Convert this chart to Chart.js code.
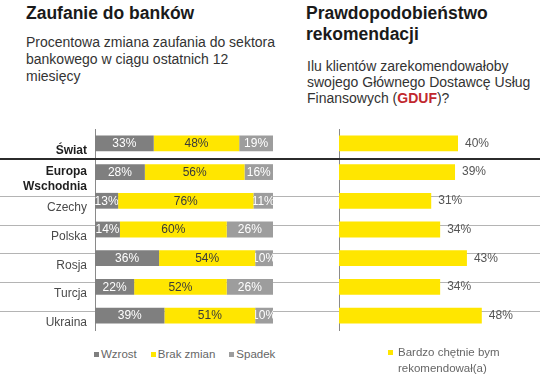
<!DOCTYPE html>
<html>
<head>
<meta charset="utf-8">
<script src="https://cdn.jsdelivr.net/npm/chart.js@4/dist/chart.umd.min.js"></script>
<style>
  html, body { margin: 0; padding: 0; background: #fff; }
  body { position: relative; width: 540px; height: 378px; overflow: hidden; font-family: "Liberation Sans", Arial, sans-serif; }
  .title { position: absolute; font-weight: bold; font-size: 17.5px; line-height: 21px; color: #1a1a1a; white-space: nowrap; }
  .sub { position: absolute; font-size: 14px; color: #333; white-space: nowrap; }
  canvas { position: absolute; }
  .legend { position: absolute; font-size: 11.5px; line-height: 14px; color: #666; }
  .legend .item { display: inline-flex; align-items: center; margin-right: 14px; }
  .legend .box { display: inline-block; width: 5px; height: 5px; margin-right: 2px; }
  .gduf { color: #c1272d; font-weight: bold; }
</style>
</head>
<body>
<div class="title" style="left:26px; top:3px;">Zaufanie do banków</div>
<div class="sub" style="left:26px; top:34px; line-height:17px;">Procentowa zmiana zaufania do sektora<br>bankowego w ciągu ostatnich 12<br>miesięcy</div>
<div class="title" style="left:306px; top:3px;">Prawdopodobieństwo<br>rekomendacji</div>
<div class="sub" style="left:307px; top:58px; line-height:16px;">Ilu klientów zarekomendowałoby<br>swojego Głównego Dostawcę Usług<br>Finansowych (<span class="gduf">GDUF</span>)?</div>

<canvas id="trust" width="280" height="233" style="left:0; top:113px;"></canvas>
<canvas id="recommend" width="260" height="233" style="left:280px; top:113px;"></canvas>

<div id="legendLeft" class="legend" style="left:94px; top:345.7px; white-space:nowrap;"></div>
<div id="legendRight" class="legend" style="left:388px; top:344px; width:130px;"></div>

<script>
// ---- data ----
const categories = ['Świat', ['Europa', 'Wschodnia'], 'Czechy', 'Polska', 'Rosja', 'Turcja', 'Ukraina'];
const trustSeriesNames = ['Wzrost', 'Brak zmian', 'Spadek'];
const wzrost = [33, 28, 13, 14, 36, 22, 39];
const brakZmian = [48, 56, 76, 60, 54, 52, 51];
const spadek = [19, 16, 11, 26, 10, 26, 10];
const recommendSeriesName = 'Bardzo chętnie bym rekomendował(a)';
const rekomendacja = [40, 39, 31, 34, 43, 34, 48];

// ---- styles ----
const GRAY_DARK = '#7f7f7f';
const YELLOW = '#ffe600';
const GRAY_LIGHT = '#9d9d9d';
const FONT = '"Liberation Sans", Arial, sans-serif';
Chart.defaults.font.family = FONT;

// row separators (thick line under the first row, thin lines between the rest)
const rowLines = {
  id: 'rowLines',
  beforeDatasetsDraw(chart) {
    const y = chart.scales.y, ctx = chart.ctx, w = chart.width;
    const n = chart.data.labels.length;
    const p0 = y.getPixelForValue(0), p1 = y.getPixelForValue(1);
    const step = p1 - p0;
    ctx.save();
    ctx.fillStyle = '#2b2b2b';
    ctx.fillRect(0, Math.round((p0 + p1) / 2), w, 2);
    ctx.fillStyle = '#b4b4b4';
    for (let i = 2; i < n; i++) {
      ctx.fillRect(0, Math.round(y.getPixelForValue(i) - step * 0.17), w, 1);
    }
    ctx.restore();
  }
};

// percentage labels inside stacked segments
const segmentLabels = {
  id: 'segmentLabels',
  afterDatasetsDraw(chart) {
    const ctx = chart.ctx;
    chart.data.datasets.forEach((ds, di) => {
      const meta = chart.getDatasetMeta(di);
      meta.data.forEach((bar, i) => {
        const {x, y, base, height} = bar.getProps(['x', 'y', 'base', 'height'], true);
        const left = Math.min(x, base), wd = Math.abs(x - base);
        ctx.save();
        ctx.beginPath();
        ctx.rect(left, y - height / 2, wd, height);
        ctx.clip();
        ctx.font = '12px ' + FONT;
        ctx.fillStyle = di === 1 ? '#3a3a3a' : '#ffffff';
        ctx.textAlign = 'center';
        ctx.textBaseline = 'middle';
        ctx.fillText(ds.data[i] + '%', left + wd / 2, y + 0.5);
        ctx.restore();
      });
    });
  }
};

// value labels after bars
const valueLabels = {
  id: 'valueLabels',
  afterDatasetsDraw(chart) {
    const ctx = chart.ctx;
    chart.data.datasets.forEach((ds, di) => {
      chart.getDatasetMeta(di).data.forEach((bar, i) => {
        const {x, y} = bar.getProps(['x', 'y'], true);
        ctx.save();
        ctx.font = '12px ' + FONT;
        ctx.fillStyle = '#555';
        ctx.textAlign = 'left';
        ctx.textBaseline = 'middle';
        ctx.fillText(ds.data[i] + '%', x + 7, y);
        ctx.restore();
      });
    });
  }
};

const trustChart = new Chart(document.getElementById('trust'), {
  type: 'bar',
  data: {
    labels: categories,
    datasets: [
      {label: trustSeriesNames[0], data: wzrost, backgroundColor: GRAY_DARK},
      {label: trustSeriesNames[1], data: brakZmian, backgroundColor: YELLOW},
      {label: trustSeriesNames[2], data: spadek, backgroundColor: GRAY_LIGHT}
    ]
  },
  options: {
    indexAxis: 'y',
    responsive: false,
    animation: false,
    layout: {padding: {top: 16, bottom: 16, left: 0, right: 7}},
    datasets: {bar: {barPercentage: 0.55, categoryPercentage: 1}},
    plugins: {legend: {display: false}, tooltip: {enabled: false}},
    scales: {
      x: {stacked: true, min: 0, max: 100, display: false},
      y: {
        stacked: true,
        afterFit: s => { s.width = 95; },
        grid: {display: false, drawTicks: false},
        border: {display: true, color: '#8a8a8a', dash: [1, 2], width: 1},
        ticks: {
          autoSkip: false,
          padding: 8,
          labelOffset: 7,
          color: c => (c.index < 2 ? '#1e1e1e' : '#4a4a4a'),
          font: c => ({size: 12, weight: c.index < 2 ? 'bold' : 'normal'})
        }
      }
    }
  },
  plugins: [rowLines, segmentLabels]
});

const recommendChart = new Chart(document.getElementById('recommend'), {
  type: 'bar',
  data: {
    labels: categories,
    datasets: [
      {label: recommendSeriesName, data: rekomendacja, backgroundColor: YELLOW}
    ]
  },
  options: {
    indexAxis: 'y',
    responsive: false,
    animation: false,
    layout: {padding: {top: 16, bottom: 16, left: 0, right: 22.5}},
    datasets: {bar: {barPercentage: 0.55, categoryPercentage: 1}},
    plugins: {legend: {display: false}, tooltip: {enabled: false}},
    scales: {
      x: {min: 0, max: 60, display: false},
      y: {
        afterFit: s => { s.width = 59; },
        grid: {display: false, drawTicks: false},
        border: {display: true, color: '#8a8a8a', dash: [1, 2], width: 1},
        ticks: {display: false}
      }
    }
  },
  plugins: [rowLines, valueLabels]
});

// HTML legends built from the charts' own legend items
function buildLegend(chart, el, wrap) {
  const items = Chart.defaults.plugins.legend.labels.generateLabels(chart);
  items.forEach(it => {
    const item = document.createElement('span');
    item.className = 'item';
    const box = document.createElement('span');
    box.className = 'box';
    box.style.background = it.fillStyle;
    const txt = document.createElement('span');
    txt.textContent = it.text;
    if (wrap) {
      item.style.display = 'block';
      item.style.position = 'relative';
      item.style.lineHeight = '16px';
      box.style.position = 'absolute';
      box.style.left = '0px';
      box.style.top = '6px';
      txt.style.display = 'block';
      txt.style.marginLeft = '10px';
      txt.style.whiteSpace = 'normal';
      txt.style.width = '115px';
    }
    item.appendChild(box);
    item.appendChild(txt);
    el.appendChild(item);
  });
}
buildLegend(trustChart, document.getElementById('legendLeft'), false);
buildLegend(recommendChart, document.getElementById('legendRight'), true);
</script>
</body>
</html>
